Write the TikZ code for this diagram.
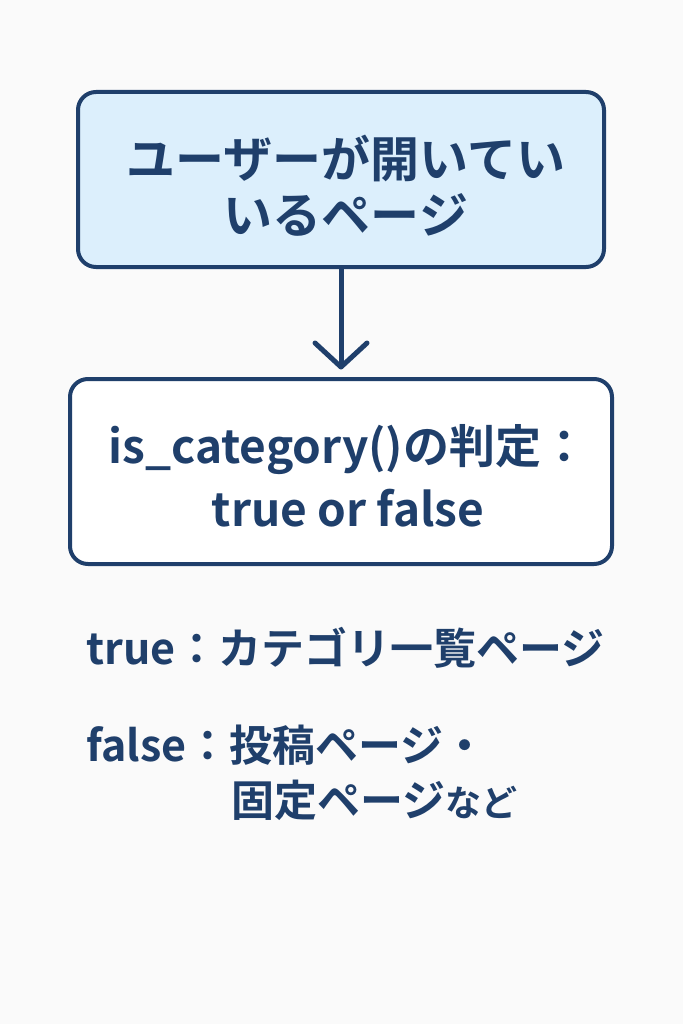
\documentclass[tikz,border=0pt]{standalone}
\usepackage{fontspec}
\setmainfont{Noto Sans CJK JP}[BoldFont={Noto Sans CJK JP Bold}]
\definecolor{navy}{HTML}{1F3F6B}
\definecolor{lightblue}{HTML}{DCEFFC}
\definecolor{bg}{HTML}{FAFAFA}
\begin{document}
\begin{tikzpicture}[x=1pt,y=-1pt,
  box/.style={draw=navy,line width=4pt,rounded corners=18pt},
  txt/.style={text=navy,font=\bfseries,inner sep=0pt}]
\fill[bg] (0,0) rectangle (683,1024);
\useasboundingbox (0,0) rectangle (683,1024);
\draw[box,fill=lightblue] (78,92) rectangle (604,267);
\node[txt,font=\fontsize{49}{56}\bfseries,align=center] (t1) at (346,186) {ユーザーが開いてい\\いるページ};
\draw[box,fill=white] (70,379) rectangle (612,564);
\node[txt,font=\fontsize{46}{63}\bfseries,align=center] (t2) at (348,476) {is\_category()の判定：\\true or false};
\coordinate (a1) at (341,267);
\coordinate (a2) at (341,367);
\draw[navy,line width=5pt] (a1) -- (a2);
\draw[navy,line width=5pt,line cap=round,line join=round] (315,343) -- (a2) -- (367,343);
\node[txt,anchor=west,font=\fontsize{43}{50}\bfseries] (t3) at (86,648) {true：カテゴリ一覧ページ};
\node[txt,anchor=west,font=\fontsize{43}{50}\bfseries] (t4) at (86,745) {false：投稿ページ・};
\node[txt,anchor=west,font=\fontsize{43}{50}\bfseries] (t5) at (231,800) {固定ページ{\fontsize{36}{40}\selectfont など}};
\end{tikzpicture}
\end{document}
